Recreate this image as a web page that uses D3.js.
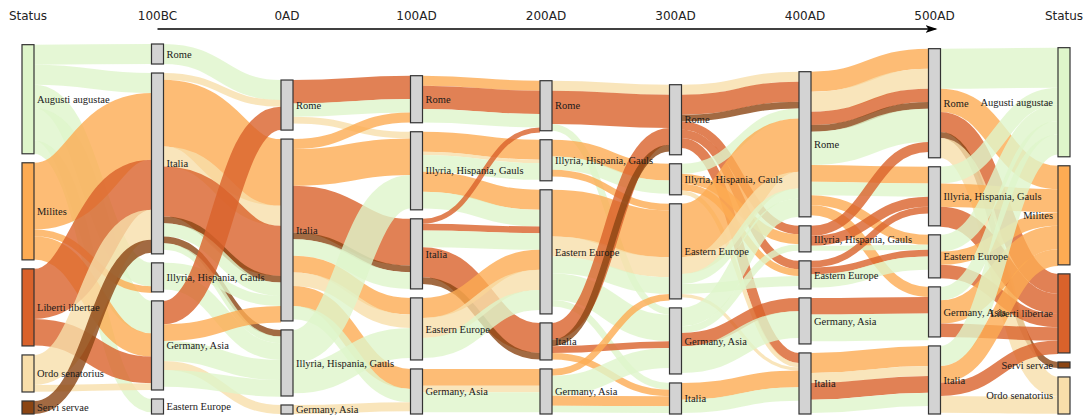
<!DOCTYPE html>
<html><head><meta charset="utf-8">
<script src="https://cdn.jsdelivr.net/npm/d3@7"></script>
<style>body{margin:0;background:#fff}svg{display:block}</style>
</head><body>
<svg id="chart" width="1083" height="416"></svg>
<script>
// ---------- DATA ----------
const periods = ["Status", "100BC", "0AD", "100AD", "200AD", "300AD", "400AD", "500AD", "Status"];

const A = "Augusti augustae", M = "Milites", L = "Liberti libertae", O = "Ordo senatorius", S = "Servi servae";
const R = "Rome", I = "Italia", H = "Illyria, Hispania, Gauls", G = "Germany, Asia", E = "Eastern Europe";

const statuses = [A, M, L, O, S];
const statusColors = ["#def5ca", "#fdab53", "#d9622b", "#f8deaa", "#8b4513"];

// nodes of each column (top to bottom) and their sizes
const col0Nodes = [A, M, L, O, S];            const col0Values = [32.7, 29.1, 23.1, 11.1, 3.9];
const col1Nodes = [R, I, H, G, E];            const col1Values = [6, 54.2, 8.7, 26.7, 4.5];
const col2Nodes = [R, I, H, G];               const col2Values = [15, 54.5, 19.8, 2.7];
const col3Nodes = [R, H, I, E, G];            const col3Values = [14.1, 23.4, 21, 18.6, 13.5];
const col4Nodes = [R, H, E, I, G];            const col4Values = [15, 12.3, 37.2, 11.1, 13.5];
const col5Nodes = [R, H, E, G, I];            const col5Values = [21, 9.3, 28.5, 19.8, 9.3];
const col6Nodes = [R, H, E, G, I];            const col6Values = [43.5, 7.8, 8.4, 13.8, 18.3];
const col7Nodes = [R, H, E, G, I];            const col7Values = [32.7, 17.7, 12.9, 15, 20.4];
const col8Nodes = [A, M, L, S, O];            const col8Values = [32.7, 29.7, 23.7, 1.8, 11.1];

// flows between consecutive columns: [source, target, status, value]
const step0Links = [
  [A,R,A,6],[A,I,A,6],[A,H,A,7],[A,G,A,9.7],[A,E,A,4],
  [M,I,M,20],[M,H,M,2],[M,G,M,7],
  [L,I,L,15],[L,G,L,8],
  [O,I,O,9],[O,G,O,2],
  [S,I,S,3.9]
];
const step1Links = [
  [R,R,A,6],
  [I,R,O,2],[I,I,M,20],[I,I,O,6],[I,I,L,15],[I,I,S,2],[I,I,A,4],[I,H,S,2],[I,H,A,2],
  [H,I,A,3],[H,H,A,5],
  [G,R,L,7],[G,I,M,5],[G,H,A,6],[G,G,O,2.7],[G,H,A,5]
];
const step2Links = [
  [R,R,L,7],[R,R,A,4],[R,H,O,2],
  [I,R,M,3],[I,H,M,11],[I,I,L,14],[I,I,S,2],[I,I,A,5],[I,E,M,5],[I,E,O,4],[I,G,M,6],[I,G,A,4],
  [H,H,A,10],[H,E,A,9],
  [G,G,O,2.7]
];
const step3Links = [
  [R,R,M,3],[R,R,L,7],[R,R,A,4],
  [H,H,M,6],[H,H,O,1],[H,H,A,5],[H,E,M,6],[H,E,A,5],
  [I,R,L,1.5],[I,E,L,2],[I,E,A,5],[I,I,L,9],[I,I,S,2],
  [E,E,M,6],[E,E,O,6],[E,E,A,6],
  [G,G,M,5],[G,G,O,2],[G,G,A,6]
];
const step4Links = [
  [R,R,O,3],[R,R,L,10],[R,G,A,2],
  [H,H,M,5],[H,H,A,4],[H,E,M,2],
  [E,E,M,14],[E,E,O,6],[E,E,A,5],[E,G,A,8],[E,I,A,2],
  [I,R,L,5],[I,R,S,2],[I,G,L,2],[I,I,M,2],
  [G,E,M,2],[G,G,A,6],[G,I,M,3],[G,I,A,2]
];
const step5Links = [
  [R,R,O,3],[R,R,L,6],[R,R,S,2],[R,H,L,2.5],[R,E,L,2.5],[R,I,L,3],
  [H,R,A,3],[H,H,M,3],[H,E,M,2],[H,I,O,1.3],
  [E,R,M,16],[E,R,O,5],[E,R,A,3],[E,E,A,3],[E,I,O,1],
  [G,R,A,5.5],[G,H,A,2],[G,G,L,4],[G,G,A,8],
  [I,I,M,5],[I,I,A,4]
];
const step6Links = [
  [R,R,M,6],[R,R,O,6],[R,R,L,4],[R,R,S,2],[R,R,A,10],[R,H,M,5],[R,H,A,4],[R,E,M,3],[R,G,M,3],
  [H,R,L,3],[H,H,L,3],[H,E,A,1.5],
  [E,H,L,2],[E,E,L,2],[E,E,A,4],
  [G,G,L,5],[G,G,A,8],
  [I,I,M,6],[I,I,O,3],[I,I,L,5],[I,I,A,4]
];
const step7Links = [
  [R,A,A,12],[R,M,M,7],[R,L,L,6],[R,S,S,1.8],[R,O,O,6],
  [H,A,A,5],[H,M,M,7],[H,L,L,6],
  [E,A,A,5],[E,M,M,4],[E,L,L,4],
  [G,A,A,4],[G,M,M,7],[G,L,L,4],
  [I,A,A,6],[I,M,M,5],[I,L,L,4],[I,O,O,5]
];

const columnNodes = [col0Nodes, col1Nodes, col2Nodes, col3Nodes, col4Nodes, col5Nodes, col6Nodes, col7Nodes, col8Nodes];
const columnValues = [col0Values, col1Values, col2Values, col3Values, col4Values, col5Values, col6Values, col7Values, col8Values];
const stepLinks = [step0Links, step1Links, step2Links, step3Links, step4Links, step5Links, step6Links, step7Links];

// ---------- LAYOUT ----------
(function () {
const topY = 44, bottomY = 414, pad = 9, nodeW = 12;
const svg = d3.select("#chart");

const x = d3.scalePoint().domain(d3.range(periods.length)).range([22, 1058]);
const color = d3.scaleOrdinal().domain(statuses).range(statusColors);
const totals = columnValues.map(v => d3.sum(v));
const maxN = d3.max(columnNodes, c => c.length);
const k = d3.scaleLinear().domain([0, d3.max(totals)]).range([0, bottomY - topY - pad * (maxN - 1)]);

const nodes = columnNodes.map((names, ci) => {
  const arr = names.map((n, j) => ({ name: n, value: columnValues[ci][j], col: ci, idx: j }));
  let y = bottomY;
  for (let j = arr.length - 1; j >= 0; j--) {
    const h = k(arr[j].value);
    arr[j].y1 = y; arr[j].y0 = y - h; y = arr[j].y0 - pad;
    arr[j].x0 = x(ci); arr[j].x1 = x(ci) + nodeW;
    arr[j].outY = arr[j].y0; arr[j].inY = arr[j].y0;
  }
  return arr;
});

const links = [];
stepLinks.forEach((list, s) => {
  const ls = list.map((d, order) => {
    const src = nodes[s].find(n => n.name === d[0]);
    const tgt = nodes[s + 1].find(n => n.name === d[1]);
    const w = k(d[3]);
    const l = { src, tgt, status: d[2], w, order };
    l.sy = src.outY + w / 2; src.outY += w;
    return l;
  });
  const sorted = ls.slice().sort((a, b) => a.src.idx - b.src.idx || a.order - b.order);
  sorted.forEach(l => { l.ty = l.tgt.inY + l.w / 2; l.tgt.inY += l.w; });
  links.push(...ls);
});

// links
svg.append("g").attr("fill", "none")
  .selectAll("path").data(links).join("path")
  .attr("d", l => {
    const sx = l.src.x1, tx = l.tgt.x0, mx = (sx + tx) / 2;
    return `M${sx},${l.sy}C${mx},${l.sy} ${mx},${l.ty} ${tx},${l.ty}`;
  })
  .attr("stroke", l => color(l.status))
  .attr("stroke-opacity", 0.8)
  .attr("stroke-width", l => Math.max(1, l.w));

// nodes
const allNodes = nodes.flat();
svg.append("g").selectAll("rect").data(allNodes).join("rect")
  .attr("x", d => d.x0).attr("y", d => d.y0)
  .attr("width", nodeW).attr("height", d => Math.max(1, d.y1 - d.y0))
  .attr("fill", d => (d.col === 0 || d.col === periods.length - 1) ? color(d.name) : "#d3d3d3")
  .attr("stroke", "#333").attr("stroke-width", 1.2);

// node labels
svg.append("g").selectAll("text").data(allNodes).join("text")
  .attr("x", d => d.col === periods.length - 1 ? d.x0 - 5 : d.x1 + 3)
  .attr("y", d => (d.y0 + d.y1) / 2)
  .attr("dy", "0.35em")
  .attr("text-anchor", d => d.col === periods.length - 1 ? "end" : "start")
  .attr("font-family", "'Liberation Serif', 'Times New Roman', serif")
  .attr("font-size", 10.5)
  .attr("fill", "#1a1a1a")
  .text(d => d.name);

// column headers
svg.append("g").selectAll("text").data(periods).join("text")
  .attr("x", (d, i) => x(i) + nodeW / 2)
  .attr("y", 20)
  .attr("text-anchor", "middle")
  .attr("font-family", "'DejaVu Sans', Verdana, sans-serif")
  .attr("font-size", 12)
  .attr("fill", "#222")
  .text(d => d);

// time arrow
svg.append("defs").append("marker")
  .attr("id", "arrow").attr("viewBox", "0 -5 12 10")
  .attr("refX", 10).attr("refY", 0)
  .attr("markerWidth", 12).attr("markerHeight", 10)
  .attr("markerUnits", "userSpaceOnUse")
  .attr("orient", "auto")
  .append("path").attr("d", "M0,-4L12,0L0,4L3,0Z").attr("fill", "#000");

svg.append("line")
  .attr("x1", x(1) + nodeW / 2).attr("x2", x(7) + nodeW / 2 + 1)
  .attr("y1", 29).attr("y2", 29)
  .attr("stroke", "#000").attr("stroke-width", 1.3)
  .attr("marker-end", "url(#arrow)");
})();
</script>
</body></html>
